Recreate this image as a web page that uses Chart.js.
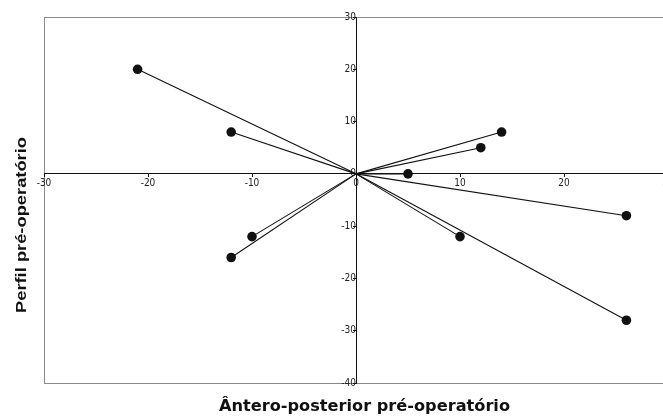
<!DOCTYPE html>
<html>
<head>
<meta charset="utf-8">
<script src="https://cdn.jsdelivr.net/npm/chart.js@4"></script>
<style>
html,body{margin:0;padding:0;background:#fff;overflow:hidden;width:663px;height:416px;}
#wrap{position:absolute;left:0;top:0;width:680px;height:416px;}
</style>
</head>
<body>
<div id="wrap"><canvas id="c" width="680" height="416"></canvas></div>
<script>
// Data
const pointX = [-21, -12, 14, 12, 5, 26, 26, 10, -10, -12];
const pointY = [20, 8, 8, 5, 0, -8, -28, -12, -12, -16];
const originX = 0;
const originY = 0;
const xTitle = 'Ântero-posterior pré-operatório';
const yTitle = 'Perfil pré-operatório';

const datasets = pointX.map((x, i) => ({
  data: [{x: originX, y: originY}, {x: x, y: pointY[i]}],
  showLine: true,
  borderColor: '#111',
  borderWidth: 1.1,
  pointRadius: [0, 4.8],
  pointBackgroundColor: '#111',
  pointBorderColor: '#111',
  pointBorderWidth: 0,
  pointHoverRadius: [0, 4.8]
}));

const frameAndTitles = {
  id: 'frameAndTitles',
  beforeDraw(chart) {
    const {ctx, chartArea: a} = chart;
    ctx.save();
    ctx.strokeStyle = '#8a8a8a';
    ctx.lineWidth = 1;
    ctx.strokeRect(Math.round(a.left) + 0.5, Math.round(a.top) + 0.5, Math.round(a.right - a.left), Math.round(a.bottom - a.top));
    ctx.restore();
  },
  afterDraw(chart) {
    const {ctx} = chart;
    ctx.save();
    ctx.fillStyle = '#111';
    ctx.textAlign = 'center';
    ctx.textBaseline = 'middle';
    // x title
    ctx.font = 'bold 15px "DejaVu Sans Condensed", "Liberation Sans Narrow", sans-serif';
    let w = ctx.measureText(xTitle).width;
    ctx.save();
    ctx.translate(364.5, 407);
    ctx.scale(291 / w, 1);
    ctx.fillText(xTitle, 0, 0);
    ctx.restore();
    // y title
    ctx.font = 'bold 14px "Liberation Sans", Arial, sans-serif';
    w = ctx.measureText(yTitle).width;
    ctx.save();
    ctx.translate(22, 225);
    ctx.rotate(-Math.PI / 2);
    ctx.scale(176 / w, 1);
    ctx.fillText(yTitle, 0, 0);
    ctx.restore();
    ctx.restore();
  }
};

const tickFont = {family: '"Liberation Sans Narrow", "Arial Narrow", "DejaVu Sans Condensed", sans-serif', size: 10};

new Chart(document.getElementById('c'), {
  type: 'scatter',
  data: {datasets},
  options: {
    responsive: false,
    animation: false,
    events: [],
    layout: {padding: {left: 44, right: 12, top: 17, bottom: 33}},
    plugins: {legend: {display: false}, tooltip: {enabled: false}},
    scales: {
      x: {
        type: 'linear',
        position: {y: 0},
        min: -30, max: 30,
        ticks: {stepSize: 10, color: '#222', font: tickFont, padding: 1, maxRotation: 0, autoSkip: false},
        grid: {display: true, drawOnChartArea: false, drawTicks: true, tickLength: 3, color: '#111'},
        border: {display: true, color: '#111', width: 1}
      },
      y: {
        type: 'linear',
        position: {x: 0},
        min: -40, max: 30,
        ticks: {stepSize: 10, color: '#222', font: tickFont, padding: 1, autoSkip: false},
        grid: {display: true, drawOnChartArea: false, drawTicks: true, tickLength: 3, color: '#111'},
        border: {display: true, color: '#111', width: 1}
      }
    }
  },
  plugins: [frameAndTitles]
});
</script>
</body>
</html>
